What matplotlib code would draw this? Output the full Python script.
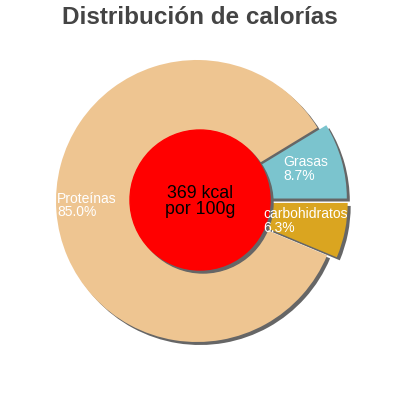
#!/usr/bin/env python3
import matplotlib
matplotlib.use('Agg')
import matplotlib.pyplot as plt
from matplotlib.patches import Circle

# data
labels = ['Grasas', 'Proteínas', 'carbohidratos']
percents = [8.7, 85.0, 6.3]
colors = ['#7BC4CE', '#EEC591', '#DAA520']
kcal = 369

# layout (pixels of the 400x400 picture)
R = 141.0                 # pie radius
CX, CY = 197.0, 199.0     # pie centre, from bottom-left
explode = [0.065, 0.0, 0.07]
label_pos = [(0.61, 0.227), (-0.993, -0.035), (0.468, -0.142)]
shadow_off = 3.0 / R

plt.rcParams['font.family'] = ['Liberation Sans', 'DejaVu Sans']

fig = plt.figure(figsize=(4, 4), dpi=100)
ax = fig.add_axes([0, 0, 1, 1])

# shadow pie, then the real one on top
ax.pie(percents, colors=['#666666'] * 3, explode=explode, startangle=0,
       center=(shadow_off, -shadow_off), wedgeprops={'linewidth': 0})
wedges, _ = ax.pie(percents, colors=colors, explode=explode, startangle=0,
                   wedgeprops={'linewidth': 0})

for lab, p, (x, y) in zip(labels, percents, label_pos):
    ax.text(x, y, '%s\n%.1f%%' % (lab, p), color='white', fontsize=10,
            ha='left', va='center', linespacing=0.92, zorder=6)

rc = (3 / R, 1 / R)
ax.add_patch(Circle((rc[0] + shadow_off, rc[1] - shadow_off), 70 / R,
                    color='#666666', zorder=3))
ax.add_patch(Circle(rc, 70 / R, color='#FF0000', zorder=4))
ax.text(rc[0], rc[1] - 0.01, '%d kcal\npor 100g' % kcal, fontsize=12.8,
        color='black', ha='center', va='center', zorder=5, linespacing=0.95)

ax.set_xlim(-CX / R, (400 - CX) / R)
ax.set_ylim(-CY / R, (400 - CY) / R)
ax.set_aspect('equal')
ax.axis('off')

fig.text(0.5, 0.955, 'Distribución de calorías', ha='center', va='center',
         fontsize=17.5, fontweight='bold', color='#444444')

fig.savefig('out.png', dpi=100)
